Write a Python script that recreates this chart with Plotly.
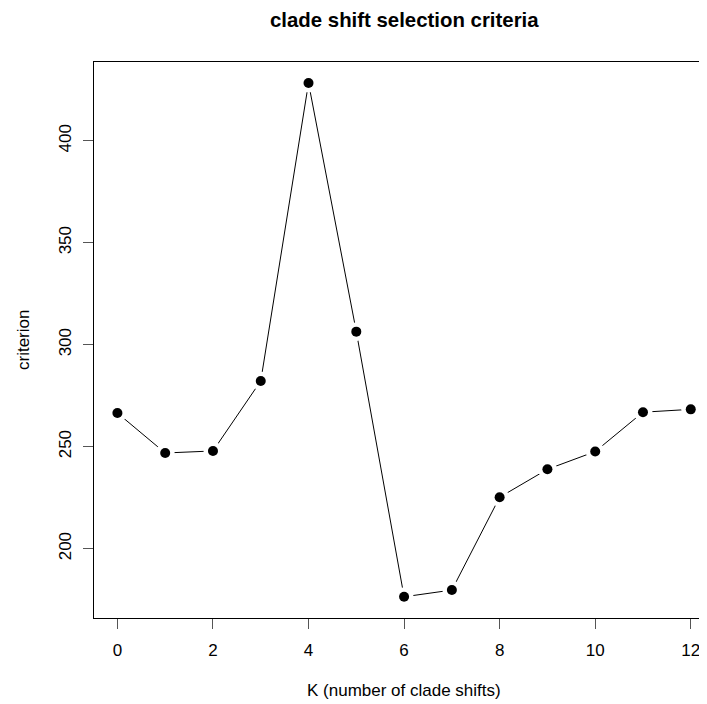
import plotly.graph_objects as go

K = [0, 1, 2, 3, 4, 5, 6, 7, 8, 9, 10, 11, 12]
criterion = [266.5, 246.9, 247.9, 282.2, 428.3, 306.4, 176.4, 179.7, 225.2, 238.9, 247.6, 266.9, 268.3]
x_ticks = [0, 2, 4, 6, 8, 10, 12]
y_ticks = [200, 250, 300, 350, 400]
title_text = "clade shift selection criteria"
x_title = "K (number of clade shifts)"
y_title = "criterion"

FONT = "Liberation Sans, Arial, Helvetica, sans-serif"

fig = go.Figure()
fig.add_trace(go.Scatter(x=K, y=criterion, mode="lines",
                         line=dict(color="black", width=1), hoverinfo="skip"))
fig.add_trace(go.Scatter(x=K, y=criterion, mode="markers",
                         marker=dict(color="white", size=19, line=dict(width=0)), hoverinfo="skip"))
fig.add_trace(go.Scatter(x=K, y=criterion, mode="markers",
                         marker=dict(color="black", size=10, line=dict(width=0))))

# page is offset by the 8px body margin, so the figure is sized to end at the window edge
OFF = 8
L, T = 94 - OFF, 62 - OFF
W, H = 707 - OFF, 704 - OFF
PW, PH = 613, 556
B = H - T - PH


def px(x):
    return (x - OFF - L) / PW


def py(y):
    return (T + PH - (y - OFF)) / PH


fig.update_layout(
    width=W, height=H,
    margin=dict(l=L, r=0, t=T, b=B, pad=0),
    paper_bgcolor="white", plot_bgcolor="white",
    showlegend=False,
    font=dict(family=FONT, size=17, color="black"),
    xaxis=dict(range=[-0.49, 12.34], tickvals=x_ticks, ticktext=[str(v) for v in x_ticks],
               showgrid=False, zeroline=False, showline=True, linecolor="black", linewidth=1,
               mirror=True, ticks="outside", ticklen=10, tickcolor="#555", tickwidth=1,
               ticklabelstandoff=7, tickfont=dict(size=17)),
    yaxis=dict(range=[166.0, 438.6], tickvals=y_ticks, ticktext=[str(v) for v in y_ticks],
               showgrid=False, zeroline=False, showline=True, linecolor="black", linewidth=1,
               mirror=False, ticks="outside", ticklen=10, tickcolor="#555", tickwidth=1,
               tickangle=-90, ticklabelstandoff=5, tickfont=dict(size=17)),
    annotations=[
        dict(text="<b>" + title_text + "</b>", xref="paper", yref="paper",
             x=px(404), y=py(20), xanchor="center", yanchor="middle",
             showarrow=False, font=dict(size=20.4, family=FONT)),
        dict(text=x_title, xref="paper", yref="paper",
             x=px(404), y=py(690), xanchor="center", yanchor="middle",
             showarrow=False, font=dict(size=17, family=FONT)),
        dict(text=y_title, xref="paper", yref="paper",
             x=px(23), y=py(340), xanchor="center", yanchor="middle", textangle=-90,
             showarrow=False, font=dict(size=17, family=FONT)),
    ],
)

fig.write_html("out.html", post_script="document.body.style.overflow='hidden';")
